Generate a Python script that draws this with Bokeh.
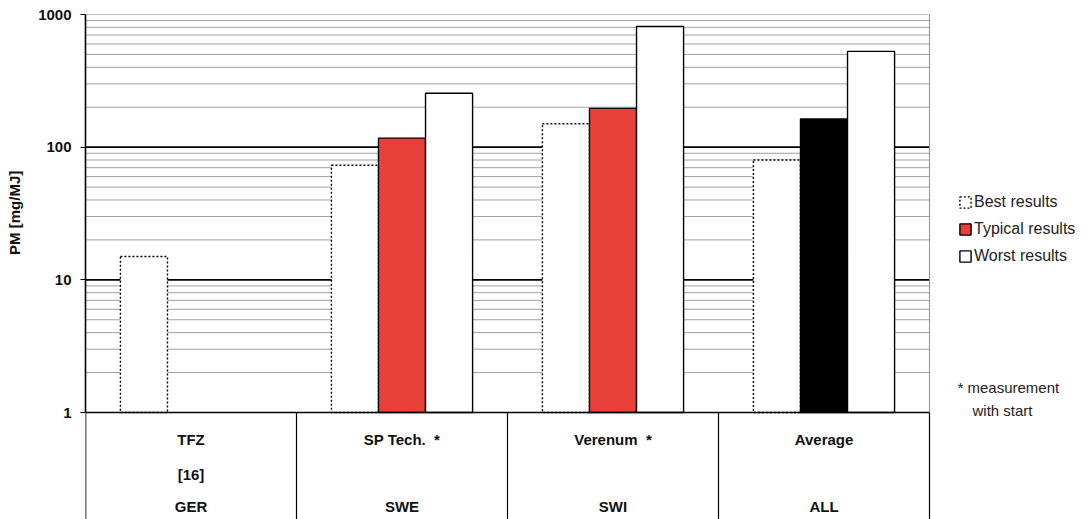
import numpy as np
from bokeh.plotting import figure
from bokeh.models import (Range1d, FixedTicker, Legend, LegendItem, Label,
                          ColumnDataSource, NumeralTickFormatter)
from bokeh.core.properties import value
from bokeh.embed import file_html
from bokeh.resources import INLINE

# ---------------- data ----------------
groups = ["TFZ", "SP Tech.\u00a0\u00a0*", "Verenum\u00a0\u00a0*", "Average"]
refs = ["[16]", "", "", ""]
countries = ["GER", "SWE", "SWI", "ALL"]
best = [15, 73, 150, 80]
typical = [None, 117, 196, 163]
worst = [None, 255, 813, 527]
y_ticks = [1, 10, 100, 1000]
series_labels = ["Best results", "Typical results", "Worst results"]
note_lines = ["* measurement", "with start"]
y_title = "PM [mg/MJ]"

# ---------------- layout ----------------
FONT_NAME = "Liberation Sans"
FONT = value(FONT_NAME)
W, H = 1088, 519
LEFT, TOP = 85, 14
FRAME_RIGHT = 929
Y1_PX = 412
DEC_PX = (Y1_PX - TOP) / 3
TABLE_PX = H - Y1_PX
y_start = 10 ** (-TABLE_PX / DEC_PX)
n = len(groups)
x_end = n * (W - LEFT) / (FRAME_RIGHT - LEFT)
BW = 0.223

p = figure(width=W, height=H, y_axis_type="log",
           x_range=Range1d(0, x_end), y_range=Range1d(y_start, 1000),
           output_backend="svg", toolbar_location=None,
           min_border_left=LEFT, min_border_top=TOP,
           min_border_right=0, min_border_bottom=0)
p.xaxis.visible = False
p.xgrid.visible = False
p.ygrid.visible = False
p.outline_line_color = None
p.background_fill_color = "white"
p.border_fill_color = "white"

# grid lines (only over the plotting area, x 0..n)
minor = [m * 10 ** k for k in range(3) for m in range(2, 10)]
p.segment(x0=0, x1=n, y0=minor, y1=minor, line_color="#a0a0a0", line_width=1)
p.segment(x0=0, x1=n, y0=[10, 100], y1=[10, 100], line_color="black", line_width=1.6)
p.segment(x0=0, x1=n, y0=[1000], y1=[1000], line_color="#808080", line_width=1.2)
p.segment(x0=[n], x1=[n], y0=[1], y1=[1000], line_color="#909090", line_width=1)

# bars
xb = [i + 0.5 - BW for i in range(n)]
src_best = ColumnDataSource(dict(x=xb, top=best))
r_best = p.vbar(x="x", top="top", bottom=1, width=BW, source=src_best,
                fill_color="white", line_color="black", line_dash="2 2", line_width=1.4)

ti = [i for i in range(n) if typical[i] is not None]
typ_colors = ["#e8403a" if countries[i] != "ALL" else "black" for i in ti]
src_typ = ColumnDataSource(dict(x=[i + 0.5 for i in ti], top=[typical[i] for i in ti],
                                color=typ_colors))
r_typ = p.vbar(x="x", top="top", bottom=1, width=BW, source=src_typ,
               fill_color="color", line_color="black", line_width=1.4)

wi = [i for i in range(n) if worst[i] is not None]
src_worst = ColumnDataSource(dict(x=[i + 0.5 + BW for i in wi], top=[worst[i] for i in wi]))
r_worst = p.vbar(x="x", top="top", bottom=1, width=BW, source=src_worst,
                 fill_color="white", line_color="black", line_width=1.4)

# baseline and table (left line continues the axis down through the table)
p.segment(x0=[0], x1=[n], y0=[1], y1=[1], line_color="black", line_width=1.6)
p.segment(x0=[0], x1=[0], y0=[y_start], y1=[1], line_color="black", line_width=1.6)
p.segment(x0=list(range(1, n + 1)), x1=list(range(1, n + 1)),
          y0=y_start, y1=1, line_color="black", line_width=1.2)

row_off = [27, 62, 94]
for off, labels in zip(row_off, [groups, refs, countries]):
    yy = 10 ** (-off / DEC_PX)
    p.text(x=[i + 0.5 for i in range(n)], y=[yy] * n, text=labels,
           text_align="center", text_baseline="middle", text_font=FONT,
           text_font_style="bold", text_font_size="15px", text_color="#111")

# y axis
ax = p.yaxis[0]
ax.bounds = (1, 1000)
ax.ticker = FixedTicker(ticks=y_ticks)
ax.formatter = NumeralTickFormatter(format="0")
ax.minor_tick_line_color = None
ax.major_tick_out = 5
ax.major_tick_in = 0
ax.major_tick_line_color = "black"
ax.axis_line_color = "black"
ax.axis_line_width = 1.6
ax.major_label_standoff = 9
ax.major_label_text_font = FONT_NAME
ax.major_label_text_font_style = "bold"
ax.major_label_text_font_size = "15px"
ax.major_label_text_color = "#111"
# leading no-break spaces lift the title so it is centred on the log area, not the table
ax.axis_label = "\u00a0" * 26 + y_title
ax.axis_label_text_font = FONT_NAME
ax.axis_label_text_font_style = "bold"
ax.axis_label_text_font_size = "15px"
ax.axis_label_text_color = "#111"
ax.axis_label_standoff = 12

# legend
legend = Legend(items=[
    LegendItem(label=series_labels[0], renderers=[r_best]),
    LegendItem(label=series_labels[1], renderers=[r_typ], index=0),
    LegendItem(label=series_labels[2], renderers=[r_worst]),
], location=(873, 254))
legend.border_line_color = None
legend.background_fill_alpha = 0
legend.padding = 0
legend.margin = 0
legend.spacing = 9
legend.glyph_width = 14
legend.glyph_height = 14
legend.label_height = 14
legend.label_standoff = 2
legend.label_text_font = FONT_NAME
legend.label_text_font_size = "16px"
legend.label_text_color = "#222"
p.add_layout(legend)

# note
p.add_layout(Label(x=872, y=132, x_units="screen", y_units="screen", text=note_lines[0],
                   text_font=FONT_NAME, text_font_size="15px", text_baseline="middle",
                   text_color="#222"))
p.add_layout(Label(x=887, y=109, x_units="screen", y_units="screen", text=note_lines[1],
                   text_font=FONT_NAME, text_font_size="15px", text_baseline="middle",
                   text_color="#222"))

open("out.html", "w").write(file_html(p, INLINE))
